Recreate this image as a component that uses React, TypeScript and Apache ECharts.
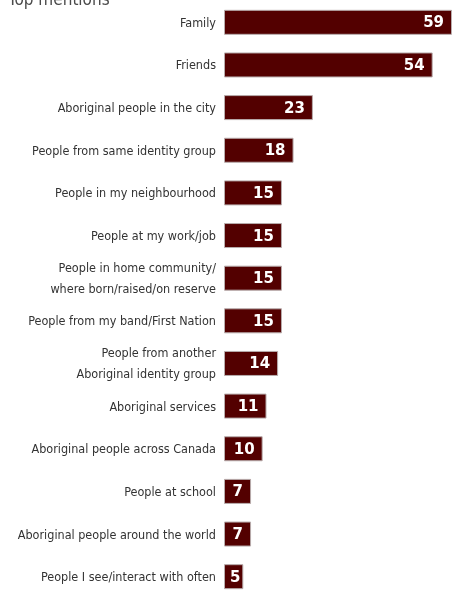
import React, { useEffect, useRef } from "react";
import * as echarts from "echarts";

const titleText = "Top mentions";
const categories = [
  "Family",
  "Friends",
  "Aboriginal people in the city",
  "People from same identity group",
  "People in my neighbourhood",
  "People at my work/job",
  "People in home community/\nwhere born/raised/on reserve",
  "People from my band/First Nation",
  "People from another\nAboriginal identity group",
  "Aboriginal services",
  "Aboriginal people across Canada",
  "People at school",
  "Aboriginal people around the world",
  "People I see/interact with often",
];
const values = [59, 54, 23, 18, 15, 15, 15, 15, 14, 11, 10, 7, 7, 5];

export default function App() {
  const ref = useRef<HTMLDivElement>(null);
  useEffect(() => {
    if (!ref.current) return;
    const chart = echarts.init(ref.current, null, { renderer: "svg" });
    chart.setOption({
      animation: false,
      title: {
        text: titleText,
        left: 8,
        top: -10,
        padding: 0,
        textStyle: {
          fontFamily: "DejaVu Sans Condensed",
          fontSize: 17,
          fontWeight: "normal",
          color: "#4a4a4a",
        },
      },
      grid: { left: 224, top: 1, width: 228, height: 604, containLabel: false },
      xAxis: {
        type: "value",
        min: 0,
        max: 59,
        show: false,
      },
      yAxis: {
        type: "category",
        data: categories,
        inverse: true,
        axisLine: { show: false },
        axisTick: { show: false },
        axisLabel: {
          margin: 8,
          fontFamily: "DejaVu Sans Condensed",
          fontSize: 12.5,
          lineHeight: 21,
          color: "#333",
          align: "right",
        },
      },
      series: [
        {
          type: "bar",
          data: values.map((v) => (v < 7 ? { value: v, label: { distance: 3 } } : v)),
          barWidth: 25,
          itemStyle: { color: "#530000", borderColor: "#b8acac", borderWidth: 1 },
          label: {
            show: true,
            position: "insideRight",
            distance: 8,
            color: "#fff",
            fontFamily: "DejaVu Sans",
            fontWeight: "bold",
            fontSize: 15,
          },
        },
      ],
    });
    return () => chart.dispose();
  }, []);
  return (
    <div
      ref={ref}
      style={{ position: "fixed", left: 0, top: 0, width: 459, height: 598 }}
    />
  );
}
